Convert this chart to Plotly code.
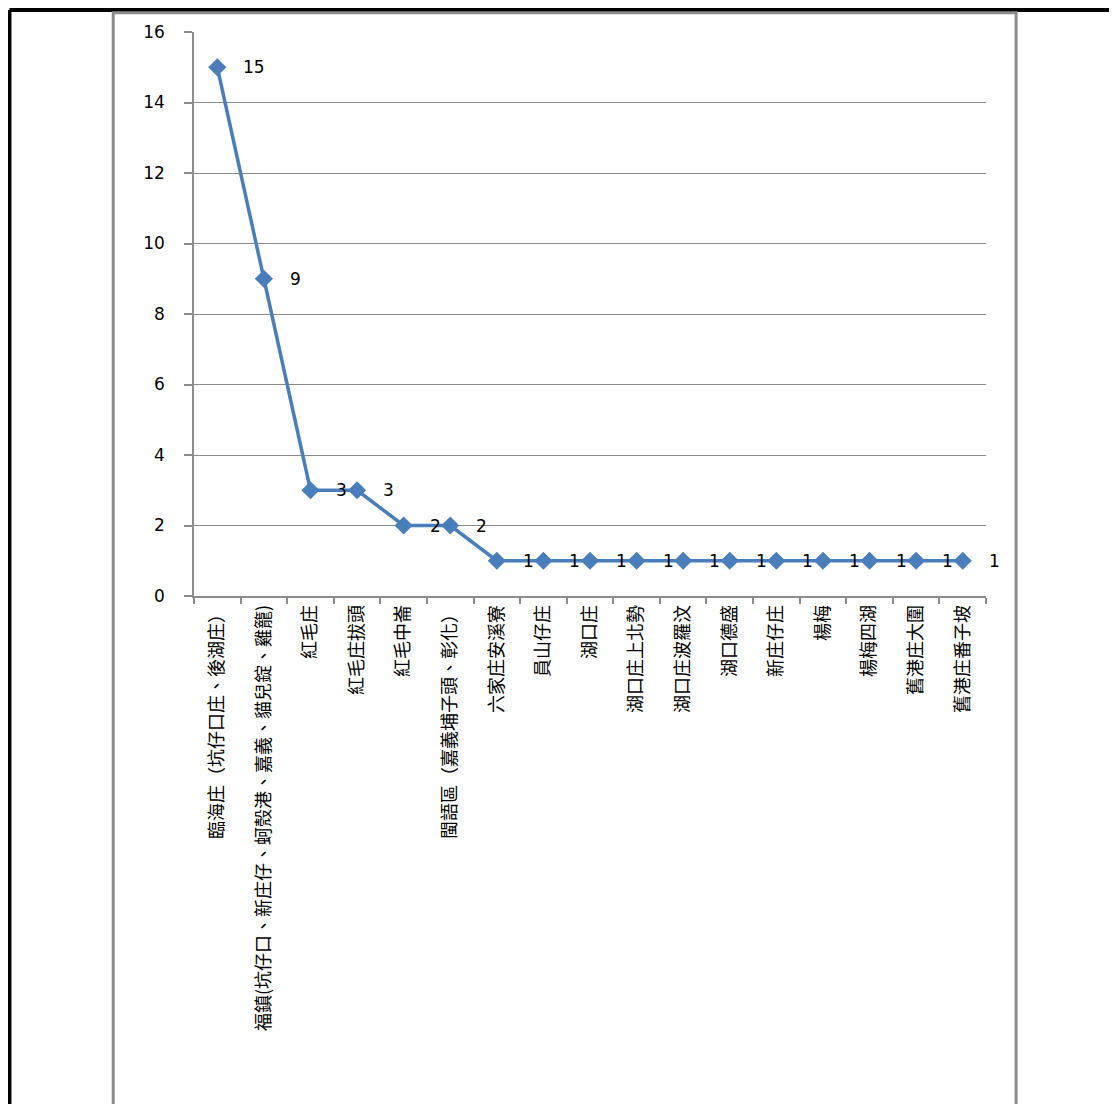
import plotly.graph_objects as go

# Data
places = [
    "臨海庄（坑仔口庄、後湖庄）",
    "福鎮(坑仔口、新庄仔、蚵殼港、嘉義、貓兒錠、雞籠)",
    "紅毛庄",
    "紅毛庄拔頭",
    "紅毛中崙",
    "閩語區（嘉義埔子頭、彰化）",
    "六家庄安溪寮",
    "員山仔庄",
    "湖口庄",
    "湖口庄上北勢",
    "湖口庄波羅汶",
    "湖口德盛",
    "新庄仔庄",
    "楊梅",
    "楊梅四湖",
    "舊港庄大圍",
    "舊港庄番子坡",
]
counts = [15, 9, 3, 3, 2, 2, 1, 1, 1, 1, 1, 1, 1, 1, 1, 1, 1]

line_color = "#4A7EBB"
font_family = "DejaVu Sans, Noto Sans CJK TC, sans-serif"

fig = go.Figure()
fig.add_trace(go.Scatter(
    x=places, y=counts, mode="lines+markers",
    line=dict(color=line_color, width=3.5),
    marker=dict(symbol="diamond", size=14, color=line_color),
    hoverinfo="x+y", showlegend=False,
))

# data labels to the right of each point
for p, c in zip(places, counts):
    fig.add_annotation(x=p, y=c, text=str(c), showarrow=False,
                       xanchor="left", yanchor="middle", xshift=24,
                       font=dict(size=17, color="black", family=font_family))

# scanned page frames (black page edge, grey chart border)
fig.add_shape(type="line", xref="paper", yref="paper", x0=-0.233, x1=1.2,
              y0=1.039, y1=1.039, line=dict(color="black", width=4))
fig.add_shape(type="line", xref="paper", yref="paper", x0=-0.233, x1=-0.233,
              y0=-0.95, y1=1.039, line=dict(color="black", width=4))
fig.add_shape(type="rect", xref="paper", yref="paper", x0=-0.102, x1=1.038,
              y0=-0.95, y1=1.034, line=dict(color="#8C8C8C", width=3))

# page body has an 8px margin, so margins are shifted to compensate
fig.update_layout(
    width=1117, height=1104,
    margin=dict(l=186, r=139, t=24, b=516),
    paper_bgcolor="white", plot_bgcolor="white",
    font=dict(family=font_family, color="black"),
    xaxis=dict(
        type="category", tickangle=-90, tickson="boundaries",
        ticks="outside", ticklen=6, tickcolor="#8C8C8C", tickwidth=1.5,
        showline=True, linecolor="#8C8C8C", linewidth=1.5,
        showgrid=False, tickfont=dict(size=18, family="Noto Sans CJK TC"),
        range=[-0.5, len(places) - 0.5], fixedrange=True,
    ),
    yaxis=dict(
        range=[0, 16], dtick=2, ticks="outside", ticklen=8,
        tickcolor="#8C8C8C", tickwidth=1.5, ticklabelstandoff=16,
        showline=True, linecolor="#8C8C8C", linewidth=1.5,
        gridcolor="#8C8C8C", gridwidth=1.2, zeroline=False,
        tickfont=dict(size=17), fixedrange=True,
    ),
)

fig.write_html("out.html")
